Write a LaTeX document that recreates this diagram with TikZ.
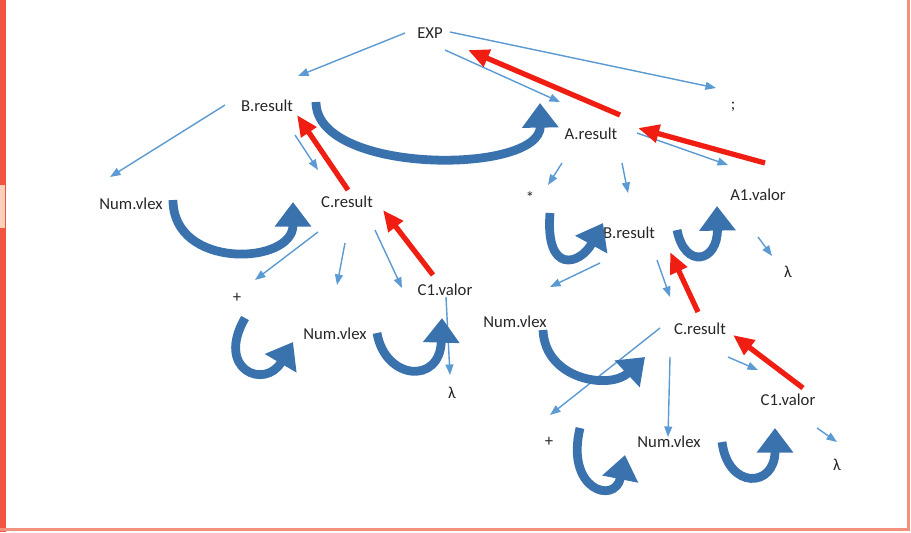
\documentclass[tikz,border=0pt]{standalone}
\usepackage{fontspec}
\setmainfont{Carlito}
\usetikzlibrary{arrows.meta, positioning}
\definecolor{cframe}{HTML}{F2553F}
\definecolor{cedge}{HTML}{F3917F}
\definecolor{cinh}{HTML}{5C9AD3}
\definecolor{csyn}{HTML}{F01E12}
\definecolor{cpass}{HTML}{3A72AE}
\definecolor{ctext}{HTML}{262626}
\tikzset{
  every picture/.style={x=0.02cm, y=-0.02cm},
  lbl/.style={font=\fontsize{9.5}{11}\selectfont, text=ctext, inner sep=1pt},
  inh/.style={-{Triangle[length=6pt, width=4.5pt]}, draw=cinh, line width=0.8pt},
  syn/.style={-{Triangle[length=12pt, width=10pt]}, draw=csyn, line width=3pt},
  pass/.style={-{Triangle[length=14pt, width=20pt]}, draw=cpass, line width=5pt},
}
\begin{document}
\begin{tikzpicture}
  \useasboundingbox (0,0) rectangle (911,532);
  % frame
  \fill[cframe] (0,0) rectangle (6,532);
  \fill[cedge!70!orange!40] (0,185) rectangle (5,228);
  \fill[cedge] (907,0) rectangle (910,531);
  \fill[cedge] (0,528) rectangle (910,531);
  % labels
  \node[lbl] (exp) at (430,33) {EXP};
  \node[lbl] (bl) at (267,106) {B.result};
  \node[lbl] (ar) at (591,134) {A.result};
  \node[lbl] (semi) at (733,107) {;};
  \node[lbl] (nvl) at (131,204) {Num.vlex};
  \node[lbl] (cl) at (347,202) {C.result};
  \node[lbl] (star) at (530,198) {*};
  \node[lbl] (br) at (629,233) {B.result};
  \node[lbl] (av) at (758,195) {A1.valor};
  \node[lbl] (lama) at (788,272) {λ};
  \node[lbl] (plusl) at (237,298) {+};
  \node[lbl] (nvm) at (335,334) {Num.vlex};
  \node[lbl] (cvl) at (445,290) {C1.valor};
  \node[lbl] (laml) at (452,393) {λ};
  \node[lbl] (nvr) at (515,322) {Num.vlex};
  \node[lbl] (cr) at (700,329) {C.result};
  \node[lbl] (plusr) at (549,442) {+};
  \node[lbl] (nvb) at (669,442) {Num.vlex};
  \node[lbl] (cvr) at (788,400) {C1.valor};
  \node[lbl] (lamb) at (837,465) {λ};
  % parent to child
  \foreach \a/\x/\y/\b/\u/\v in {exp/-25/0/bl/31/-30, exp/15/17/ar/-31/-32, exp/20/-1/semi/-17/-19,
      bl/-42/-1/nvl/-21/-27, bl/28/29/cl/-29/-32, ar/-29/29/star/18/-13, ar/31/29/br/-1/-40,
      ar/46/-1/av/-30/-30, av/0/42/lama/-16/-16, cl/-29/30/plusl/18/-18, cl/-2/41/nvm/2/-49,
      cl/28/28/cvl/-43/-2, cvl/1/7/laml/-2/-18, br/-29/30/nvr/35/-35, br/28/27/cr/-30/-32,
      cr/-40/-1/plusr/1/-27, cr/-30/28/nvb/-1/-5, cr/28/28/cvr/-30/-30, cvr/29/28/lamb/0/-23}
    \draw[inh] ([shift={(\x,\y)}]\a.center) -- ([shift={(\u,\v)}]\b.center);
  % values passed between siblings
  \draw[pass] ([shift={(49,-4)}]bl.center) .. controls +(0,73) and +(1,72) .. ([shift={(-51,-31)}]ar.center);
  \draw[pass] ([shift={(42,-4)}]nvl.center) .. controls +(0,70) and +(0,63) .. ([shift={(-54,0)}]cl.center);
  \draw[pass] ([shift={(8,20)}]plusl.center) .. controls +(-30,52) and +(-28,48) .. ([shift={(-42,8)}]nvm.center);
  \draw[pass] ([shift={(42,-1)}]nvm.center) .. controls +(8,47) and +(-2,67) .. ([shift={(-3,28)}]cvl.center);
  \draw[pass] ([shift={(20,15)}]star.center) .. controls +(-5,62) and +(-23,42) .. ([shift={(-26,-10)}]br.center);
  \draw[pass] ([shift={(48,-3)}]br.center) .. controls +(8,40) and +(1,56) .. ([shift={(-41,11)}]av.center);
  \draw[pass] ([shift={(28,8)}]nvr.center) .. controls +(2,50) and +(-35,33) .. ([shift={(-55,28)}]cr.center);
  \draw[pass] ([shift={(31,-14)}]plusr.center) .. controls +(-15,62) and +(-10,50) .. ([shift={(-44,13)}]nvb.center);
  \draw[pass] ([shift={(53,0)}]nvb.center) .. controls +(6,48) and +(0,60) .. ([shift={(-13,28)}]cvr.center);
  % synthesized results going up
  \foreach \a/\x/\y/\b/\u/\v in {ar/29/-19/exp/38/17, av/7/-32/ar/47/-6, cl/1/-12/bl/30/9,
      cvl/-12/-15/cl/36/8, cr/-2/-17/br/41/19, cvr/15/-12/cr/33/6}
    \draw[syn] ([shift={(\x,\y)}]\a.center) -- ([shift={(\u,\v)}]\b.center);
\end{tikzpicture}
\end{document}
